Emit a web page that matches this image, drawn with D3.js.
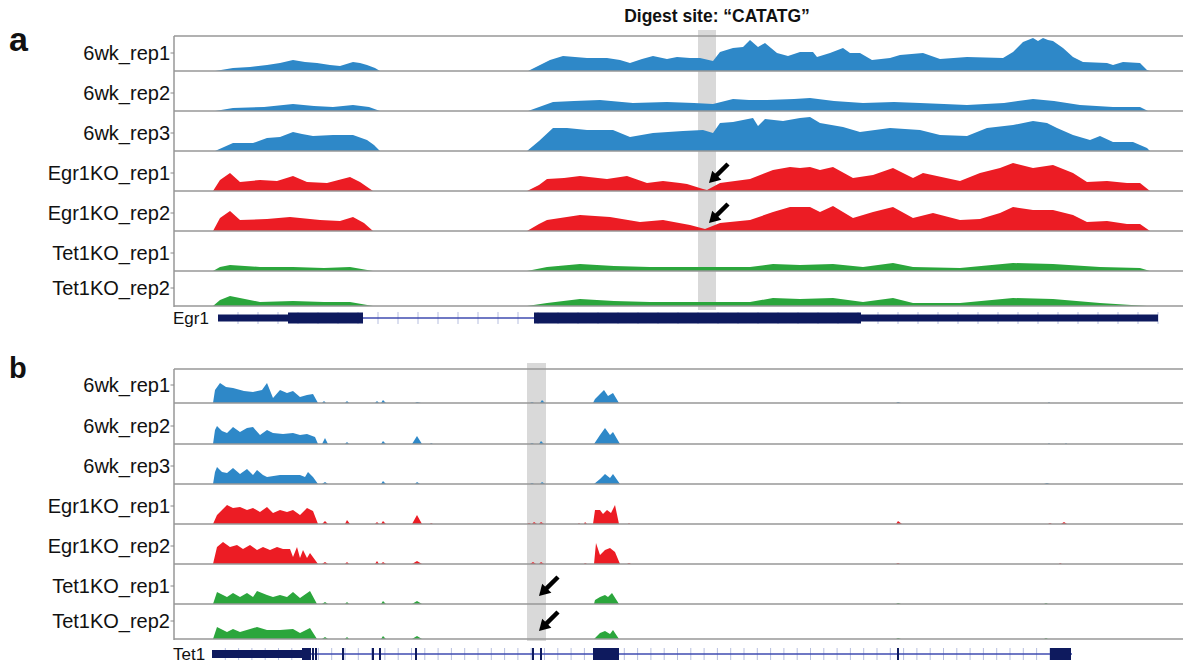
<!DOCTYPE html>
<html><head><meta charset="utf-8">
<script src="https://cdn.jsdelivr.net/npm/d3@7"></script>
<style>
html,body{margin:0;padding:0;background:#fff;}
svg{display:block;}
</style></head>
<body>
<svg id="chart" width="1183" height="665"></svg>
<script>
// ---------------- DATA ----------------
const sampleNames = ["6wk_rep1","6wk_rep2","6wk_rep3","Egr1KO_rep1","Egr1KO_rep2","Tet1KO_rep1","Tet1KO_rep2"];
const sampleGroups = ["6wk","6wk","6wk","Egr1KO","Egr1KO","Tet1KO","Tet1KO"];
const titleText = "Digest site: \u201CCATATG\u201D";

// Panel a (Egr1 locus): coverage as [position, coverage]
const egr1_6wk_rep1 = [[41,0],[59,3],[76,4],[93,6],[106,8],[119,11],[131,9],[143,8],[156,6],[166,5],[179,9],[186,8],[193,6],[201,3],[206,0],
 [354,0],[366,6],[376,11],[389,15],[401,14],[413,13],[433,13],[446,11],[456,8],[468,12],[479,15],[493,12],[503,14],[516,13],[526,13],[539,10],[546,19],[559,23],[569,24],[576,31],[584,24],[591,28],[603,18],[614,15],[626,19],[639,19],[643,14],[656,18],[669,23],[676,18],[686,18],[698,11],[716,13],[726,16],[749,18],[766,12],[793,14],[829,13],[839,19],[849,29],[854,31],[859,33],[864,30],[869,33],[874,31],[879,30],[889,23],[899,14],[909,9],[933,8],[939,6],[949,9],[966,8],[973,1],[976,0]];
const egr1_6wk_rep2 = [[41,0],[59,3],[90,4],[119,7],[140,5],[159,4],[179,6],[195,4],[206,0],
 [354,0],[379,9],[400,10],[426,11],[459,8],[493,9],[520,8],[539,7],[559,12],[575,11],[593,11],[620,12],[636,13],[660,10],[689,8],[720,9],[746,8],[770,7],[793,6],[830,8],[859,12],[880,10],[906,6],[939,4],[966,4],[974,0]];
const egr1_6wk_rep3 = [[41,0],[50,4],[59,8],[79,8],[93,13],[106,14],[119,19],[128,17],[139,15],[159,16],[179,16],[193,11],[200,6],[206,0],
 [353,0],[365,10],[379,23],[393,23],[413,21],[439,21],[456,14],[479,18],[509,20],[529,21],[539,18],[546,28],[559,29],[579,33],[584,25],[591,32],[609,30],[626,33],[636,34],[646,28],[669,24],[686,19],[716,23],[746,21],[766,16],[793,15],[813,23],[839,26],[859,30],[873,28],[883,23],[899,16],[916,11],[926,15],[939,9],[959,9],[973,3],[976,0]];
const egr1_Egr1KO_rep1 = [[39,0],[46,11],[56,18],[66,9],[86,11],[103,10],[119,15],[133,9],[153,8],[176,14],[186,9],[199,0],
 [353,0],[365,6],[373,12],[390,13],[406,15],[433,12],[453,15],[473,8],[489,10],[506,8],[513,7],[529,2],[533,1],[546,8],[576,12],[599,21],[616,24],[626,23],[636,24],[646,21],[659,24],[679,13],[699,16],[719,23],[739,13],[749,18],[786,10],[806,18],[826,23],[839,28],[859,23],[879,26],[899,18],[913,9],[933,10],[953,8],[966,8],[976,0]];
const egr1_Egr1KO_rep2 = [[39,0],[46,13],[56,20],[66,11],[93,12],[116,14],[146,11],[166,10],[179,14],[190,8],[199,0],
 [353,0],[365,7],[373,11],[406,16],[436,14],[466,9],[489,11],[516,6],[531,2],[546,8],[576,11],[599,19],[616,24],[636,24],[646,19],[659,25],[679,13],[699,19],[719,24],[739,13],[759,18],[786,11],[806,12],[826,18],[839,24],[859,21],[879,21],[899,16],[913,9],[933,10],[953,7],[966,7],[976,0]];
const egr1_Tet1KO_rep1 = [[39,0],[46,4],[56,6],[86,4],[119,4],[150,3],[176,4],[199,0],
 [353,0],[373,4],[406,7],[440,5],[476,4],[526,4],[576,4],[599,7],[626,6],[659,7],[689,4],[719,8],[739,4],[786,3],[839,8],[879,7],[926,4],[966,3],[976,0]];
const egr1_Tet1KO_rep2 = [[39,0],[46,6],[56,10],[86,4],[119,5],[150,4],[176,4],[199,0],
 [353,0],[373,3],[406,7],[440,5],[476,4],[526,4],[576,4],[599,8],[626,7],[659,8],[689,4],[719,8],[739,3],[786,3],[839,8],[879,7],[926,3],[973,0]];

// Panel b (Tet1 locus)
const tet1_6wk_rep1 = [[39,0],[41,13],[46,20],[52,16],[59,15],[70,12],[79,11],[88,13],[93,20],[99,5],[106,13],[113,10],[119,12],[126,6],[133,8],[139,9],[144,0],
 [148,0],[150,2],[152,0],[171,0],[173,2],[175,0],[201,0],[203,2],[205,0],[207,0],[209,3],[212,0],[241,0],[243,1],[247,0],[356,0],[358,1],[360,0],[366,0],[368,3],[371,0],
 [419,0],[421,4],[426,9],[430,13],[434,7],[439,10],[445,0],[722,0],[724,1],[727,0],[874,0],[875,1],[876,0]];
const tet1_6wk_rep2 = [[39,0],[41,14],[43,18],[48,13],[53,11],[59,17],[66,12],[73,16],[79,17],[86,9],[93,14],[99,11],[109,10],[119,11],[126,9],[133,10],[141,7],[144,0],
 [148,0],[151,6],[154,0],[171,0],[173,2],[175,0],[207,0],[209,3],[212,0],[238,0],[243,8],[248,0],[256,0],[257,1],[259,0],[356,0],[358,1],[360,0],[365,0],[367,3],[370,0],
 [420,0],[426,9],[431,16],[436,9],[439,12],[446,0],[874,0],[875,1],[876,0],[891,0],[892,1],[893,0]];
const tet1_6wk_rep3 = [[39,0],[41,12],[43,17],[48,12],[53,11],[59,16],[66,10],[73,15],[79,9],[83,14],[89,9],[93,7],[106,9],[126,9],[131,7],[134,12],[139,7],[144,0],
 [148,0],[151,2],[154,0],[207,0],[209,3],[212,0],[241,0],[243,2],[246,0],[356,0],[358,1],[360,0],[366,0],[368,2],[371,0],
 [420,0],[426,5],[431,10],[436,6],[439,10],[446,0],[870,0],[873,1],[876,0]];
const tet1_Egr1KO_rep1 = [[39,0],[43,9],[53,19],[59,16],[66,17],[73,14],[79,16],[86,12],[93,17],[99,11],[106,14],[113,12],[119,14],[126,9],[133,16],[139,13],[144,0],
 [148,0],[151,3],[154,0],[171,0],[173,4],[176,0],[201,0],[203,2],[205,0],[207,0],[209,3],[212,0],[238,0],[243,9],[248,0],[256,0],[257,1],[259,0],[353,0],[355,1],[357,0],[358,0],[360,2],[363,0],[365,0],[367,2],[370,0],[404,0],[405,1],[406,0],[410,0],[411,2],[413,0],
 [419,0],[421,14],[426,14],[429,10],[433,14],[437,11],[441,19],[445,0],[454,0],[455,1],[456,0],[722,0],[724,3],[728,0],[874,0],[876,1],[878,0],[887,0],[890,2],[893,0]];
const tet1_Egr1KO_rep2 = [[39,0],[43,17],[49,22],[56,17],[63,19],[69,15],[76,19],[83,14],[89,17],[96,14],[103,17],[109,15],[116,15],[119,7],[123,17],[126,6],[129,14],[133,6],[136,11],[144,0],
 [148,0],[151,2],[154,0],[171,0],[173,2],[175,0],[201,0],[203,3],[205,0],[207,0],[209,2],[212,0],[238,0],[243,3],[248,0],[356,0],[359,2],[362,0],[365,0],[367,2],[370,0],[410,0],[411,1],[413,0],
 [420,0],[422,21],[426,9],[431,14],[436,16],[441,12],[446,0],[453,0],[455,1],[457,0],[722,0],[724,1],[726,0],[885,0],[886,1],[888,0]];
const tet1_Tet1KO_rep1 = [[39,0],[43,12],[53,7],[59,11],[66,7],[73,11],[79,7],[83,13],[93,9],[99,7],[106,9],[113,7],[119,12],[126,6],[136,13],[143,0],
 [148,0],[151,2],[154,0],[171,0],[173,2],[175,0],[207,0],[209,3],[212,0],[238,0],[243,3],[248,0],
 [420,0],[421,4],[426,7],[431,9],[434,7],[438,11],[445,0],[722,0],[724,1],[727,0],[870,0],[872,1],[874,0]];
const tet1_Tet1KO_rep2 = [[39,0],[43,12],[53,7],[59,10],[66,7],[83,12],[93,9],[106,9],[119,10],[126,6],[136,11],[143,0],
 [148,0],[151,2],[154,0],[171,0],[173,2],[175,0],[207,0],[209,3],[212,0],[238,0],[243,3],[248,0],
 [420,0],[426,6],[431,8],[436,5],[439,9],[445,0],[722,0],[724,1],[727,0],[870,0],[872,1],[874,0]];

// Gene models: [start, end, type]
const egr1Name = "Egr1";
const egr1Span = [44, 984];
const egr1Exons = [[44,114,"utr"],[114,189,"cds"],[360,687,"cds"],[687,984,"utr"]];
const tet1Name = "Tet1";
const tet1Span = [38, 898];
const tet1Exons = [[38,128,"utr"],[128,137,"cds"],[138,140,"cds"],[141,143,"cds"],[168,170,"cds"],[198,200,"cds"],[205,207,"cds"],[241,243,"cds"],[358,360,"cds"],[366,368,"cds"],[419,445,"cds"],[723,725,"cds"],[876,897,"cds"]];

// Digest site highlight [start,end] and arrows (position, track index)
const egr1Digest = [524, 542];
const tet1Digest = [353, 372];
const egr1Arrows = [[534,3],[534,4]];
const tet1Arrows = [[364,5],[364,6]];

// ---------------- DRAW ----------------
const svg = d3.select("#chart");
const X = d3.scaleLinear().domain([0, 1009]).range([174, 1183]);
const colorOf = d3.scaleOrdinal().domain(["6wk","Egr1KO","Tet1KO"]).range(["#2e88c8","#ec1c24","#2ba63c"]);

const panels = [
  {letter:"a", letterY:51, letterSize:34, top:36, baselines:[71,111,151,191,231,271,306], bandTop:30, bandBottom:310,
   tracks:[egr1_6wk_rep1,egr1_6wk_rep2,egr1_6wk_rep3,egr1_Egr1KO_rep1,egr1_Egr1KO_rep2,egr1_Tet1KO_rep1,egr1_Tet1KO_rep2],
   gene:{name:egr1Name, span:egr1Span, exons:egr1Exons, y:318, tickStep:20, utrH:7, cdsH:11},
   digest:egr1Digest, arrows:egr1Arrows},
  {letter:"b", letterY:378, letterSize:29, top:369, baselines:[403,444,484,524,564,604,639], bandTop:363, bandBottom:641,
   tracks:[tet1_6wk_rep1,tet1_6wk_rep2,tet1_6wk_rep3,tet1_Egr1KO_rep1,tet1_Egr1KO_rep2,tet1_Tet1KO_rep1,tet1_Tet1KO_rep2],
   gene:{name:tet1Name, span:tet1Span, exons:tet1Exons, y:654, tickStep:13.3, utrH:8, cdsH:12},
   digest:tet1Digest, arrows:tet1Arrows}
];

const font = "'Liberation Sans', Arial, sans-serif";

panels.forEach(p => {
  const g = svg.append("g");
  // highlight band
  g.append("rect")
    .attr("x", X(p.digest[0])).attr("width", X(p.digest[1]) - X(p.digest[0]))
    .attr("y", p.bandTop).attr("height", p.bandBottom - p.bandTop)
    .attr("fill", "#d9d9d9");

  // coverage areas
  p.tracks.forEach((data, i) => {
    const base = p.baselines[i];
    const y = d3.scaleLinear().domain([0, 36]).range([base, base - 36]);
    const area = d3.area().x(d => X(d[0])).y0(base).y1(d => y(d[1]));
    g.append("path").datum(data).attr("d", area)
      .attr("fill", colorOf(sampleGroups[i])).attr("stroke", "none");
  });

  // separators
  const lineColor = "#979797";
  g.append("line").attr("x1", X(0)).attr("x2", X(1009)).attr("y1", p.top).attr("y2", p.top)
    .attr("stroke", lineColor).attr("stroke-width", 1.5);
  p.baselines.forEach(b => {
    g.append("line").attr("x1", X(0)).attr("x2", X(1009)).attr("y1", b).attr("y2", b)
      .attr("stroke", lineColor).attr("stroke-width", 1.6);
  });
  g.append("line").attr("x1", X(0)).attr("x2", X(0)).attr("y1", p.top).attr("y2", p.baselines[6] + 1)
    .attr("stroke", lineColor).attr("stroke-width", 1.5);

  // labels
  sampleNames.forEach((name, i) => {
    const ly = p.baselines[i] - 11;
    g.append("text").attr("x", 170).attr("y", ly).attr("text-anchor", "end")
      .attr("font-family", font).attr("font-size", 20).attr("fill", "#111").text(name);
    g.append("line").attr("x1", 170.5).attr("x2", 174).attr("y1", ly - 7).attr("y2", ly - 7)
      .attr("stroke", "#888").attr("stroke-width", 1);
  });

  // panel letter
  svg.append("text").attr("x", 9).attr("y", p.letterY).attr("font-family", font)
    .attr("font-weight", "bold").attr("font-size", p.letterSize).attr("fill", "#111").text(p.letter);

  // gene model
  const gm = p.gene;
  const gg = svg.append("g");
  gg.append("text").attr("x", 173).attr("y", gm.y + 6).attr("font-family", font)
    .attr("font-size", 17).attr("fill", "#111").text(gm.name);
  const ticks = d3.range(X(gm.span[0]) + gm.tickStep, X(gm.span[1]) + 2, gm.tickStep);
  gg.selectAll("line.tk").data(ticks).enter().append("line")
    .attr("x1", d => d).attr("x2", d => d).attr("y1", gm.y - 6).attr("y2", gm.y + 6)
    .attr("stroke", "#b7bfe0").attr("stroke-width", 1);
  gg.append("line").attr("x1", X(gm.span[0])).attr("x2", X(gm.span[1]))
    .attr("y1", gm.y).attr("y2", gm.y).attr("stroke", "#3f4bb0").attr("stroke-width", 1.5);
  gg.selectAll("rect.ex").data(gm.exons).enter().append("rect")
    .attr("x", d => X(d[0])).attr("width", d => Math.max(2, X(d[1]) - X(d[0])))
    .attr("y", d => gm.y - (d[2] === "cds" ? gm.cdsH : gm.utrH) / 2)
    .attr("height", d => (d[2] === "cds" ? gm.cdsH : gm.utrH))
    .attr("fill", "#0e1a5e");

  // arrows
  p.arrows.forEach(a => {
    const tip = [X(a[0]) + 1, p.baselines[a[1]] - 8];
    const tail = [tip[0] + 19, tip[1] - 19];
    const dx = tip[0] - tail[0], dy = tip[1] - tail[1];
    const len = Math.hypot(dx, dy), ux = dx / len, uy = dy / len;
    const L = 11, W = 6.5;
    const bx = tip[0] - ux * L, by = tip[1] - uy * L;
    svg.append("line").attr("x1", tail[0]).attr("y1", tail[1]).attr("x2", bx + ux).attr("y2", by + uy)
      .attr("stroke", "#000").attr("stroke-width", 4.5);
    svg.append("path").attr("d", `M${tip[0]},${tip[1]}L${bx - uy * W},${by + ux * W}L${bx + uy * W},${by - ux * W}Z`)
      .attr("fill", "#000");
  });
});

// title
svg.append("text").attr("x", X((egr1Digest[0] + egr1Digest[1]) / 2) + 10).attr("y", 22)
  .attr("text-anchor", "middle").attr("font-family", font).attr("font-weight", "bold")
  .attr("font-size", 17.5).attr("fill", "#111").text(titleText);
</script>
</body></html>
